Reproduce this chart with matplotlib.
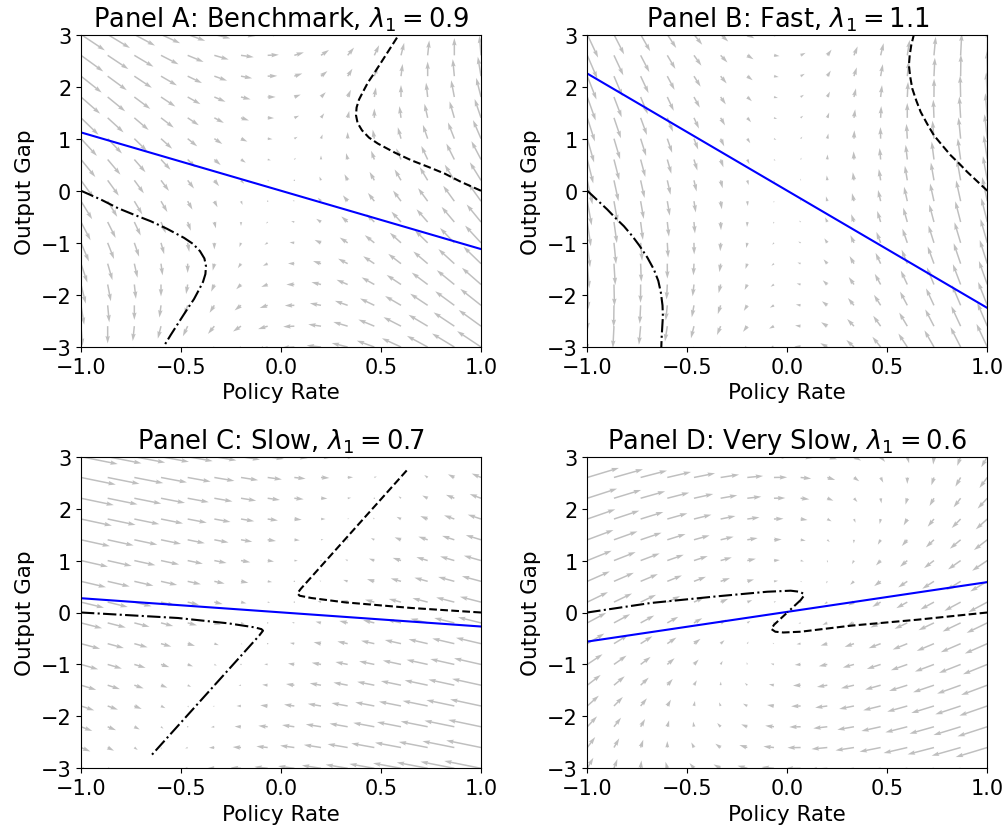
import numpy as np
import matplotlib
matplotlib.use('Agg')
import matplotlib.pyplot as plt

# Policy rate / output gap grid for the direction field
RATE_LIM = (-1.0, 1.0)
GAP_LIM = (-3.0, 3.0)
N_GRID = 16

PANEL_TITLES = [
    r'Panel A: Benchmark, $\lambda_1 = 0.9$',
    r'Panel B: Fast, $\lambda_1 = 1.1$',
    r'Panel C: Slow, $\lambda_1 = 0.7$',
    r'Panel D: Very Slow, $\lambda_1 = 0.6$',
]

# Linearised law of motion per panel: d(rate, gap) = M @ (rate, gap)
FIELD_A = [[-0.30, 0.100], [0.45, 0.017]]
FIELD_B = [[-0.095, 0.040], [0.48, 0.0067]]
FIELD_C = [[-0.36, 0.080], [0.09, -0.010]]
FIELD_D = [[-0.355, 0.082], [-0.18, -0.0033]]

# Saddle path (policy rate endpoints, output gap endpoints)
PATH_RATE = [-1.0, 1.0]
PATH_GAP_A = [1.12, -1.12]
PATH_GAP_B = [2.25, -2.25]
PATH_GAP_C = [0.275, -0.27]
PATH_GAP_D = [-0.56, 0.585]

# Simulated trajectories starting from rate = +1 (dashed) and rate = -1 (dash-dot)
UP_RATE_A = [1.0, 0.90, 0.818, 0.735, 0.652, 0.57, 0.485, 0.44, 0.405, 0.383,
             0.375, 0.378, 0.39, 0.41, 0.435, 0.47, 0.51, 0.55, 0.59]
UP_GAP_A = [0.0, 0.17, 0.33, 0.46, 0.584, 0.73, 0.904, 1.02, 1.16, 1.30,
            1.45, 1.60, 1.75, 1.90, 2.08, 2.28, 2.52, 2.76, 3.0]
DN_RATE_A = [-1.0, -0.90, -0.815, -0.735, -0.652, -0.57, -0.485, -0.44, -0.405, -0.383,
             -0.375, -0.378, -0.39, -0.41, -0.435, -0.47, -0.51, -0.55, -0.585]
DN_GAP_A = [0.0, -0.17, -0.335, -0.46, -0.584, -0.73, -0.904, -1.02, -1.16, -1.30,
            -1.45, -1.60, -1.75, -1.90, -2.08, -2.28, -2.52, -2.76, -2.98]

UP_RATE_B = [1.0, 0.95, 0.90, 0.86, 0.817, 0.775, 0.733, 0.70, 0.667, 0.645,
             0.625, 0.614, 0.608, 0.612, 0.62, 0.633]
UP_GAP_B = [0.0, 0.18, 0.36, 0.52, 0.68, 0.87, 1.065, 1.28, 1.512, 1.73,
            1.96, 2.20, 2.41, 2.60, 2.80, 3.0]
DN_RATE_B = [-1.0, -0.95, -0.90, -0.86, -0.817, -0.775, -0.74, -0.70, -0.667, -0.645,
             -0.632, -0.624, -0.622, -0.625, -0.628, -0.63]
DN_GAP_B = [0.0, -0.18, -0.36, -0.52, -0.68, -0.87, -1.05, -1.28, -1.512, -1.73,
            -1.96, -2.20, -2.41, -2.60, -2.80, -3.0]

UP_RATE_C = [1.0, 0.652, 0.318, 0.152, 0.093, 0.082, 0.10, 0.635]
UP_GAP_C = [0.0, 0.087, 0.196, 0.279, 0.323, 0.37, 0.46, 2.763]
DN_RATE_C = [-1.0, -0.515, -0.265, -0.132, -0.098, -0.09, -0.108, -0.655]
DN_GAP_C = [0.0, -0.106, -0.208, -0.286, -0.32, -0.35, -0.44, -2.78]

UP_RATE_D = [1.0, 0.65, 0.317, 0.067, -0.02, -0.06, -0.08, -0.066, 0.0]
UP_GAP_D = [0.0, -0.139, -0.254, -0.37, -0.385, -0.37, -0.318, -0.235, 0.0]
DN_RATE_D = [-1.0, -0.683, -0.35, -0.10, 0.017, 0.06, 0.08, 0.083, 0.067, 0.0]
DN_GAP_D = [0.0, 0.183, 0.312, 0.40, 0.42, 0.40, 0.365, 0.323, 0.24, 0.0]

PANELS = [
    (FIELD_A, PATH_GAP_A, (UP_RATE_A, UP_GAP_A), (DN_RATE_A, DN_GAP_A)),
    (FIELD_B, PATH_GAP_B, (UP_RATE_B, UP_GAP_B), (DN_RATE_B, DN_GAP_B)),
    (FIELD_C, PATH_GAP_C, (UP_RATE_C, UP_GAP_C), (DN_RATE_C, DN_GAP_C)),
    (FIELD_D, PATH_GAP_D, (UP_RATE_D, UP_GAP_D), (DN_RATE_D, DN_GAP_D)),
]

W, H = 1008, 829
fig = plt.figure(figsize=(W / 100, H / 100), dpi=100)
fig.patch.set_facecolor('white')

# axes boxes in pixels: left, top, width, height
boxes = [
    (81, 35.5, 400, 312.5),
    (587.3, 35.5, 400, 312.5),
    (81, 457.7, 400, 311.6),
    (587.3, 457.7, 400, 311.6),
]

rate = np.linspace(RATE_LIM[0], RATE_LIM[1], N_GRID)
gap = np.linspace(GAP_LIM[0], GAP_LIM[1], N_GRID)
R, G = np.meshgrid(rate, gap)

for (left, top, w, h), title, (field, path_gap, up, dn) in zip(boxes, PANEL_TITLES, PANELS):
    ax = fig.add_axes([left / W, 1 - (top + h) / H, w / W, h / H])
    m = np.array(field)
    U = m[0, 0] * R + m[0, 1] * G
    V = m[1, 0] * R + m[1, 1] * G
    ax.quiver(R, G, U, V, color='gray', alpha=0.5)
    ax.plot(PATH_RATE, path_gap, color='blue', lw=1.5)
    ax.plot(up[0], up[1], 'k--', lw=1.5)
    ax.plot(dn[0], dn[1], 'k-.', lw=1.5)
    ax.set_xlim(*RATE_LIM)
    ax.set_ylim(*GAP_LIM)
    ax.set_xticks([-1.0, -0.5, 0.0, 0.5, 1.0])
    ax.set_yticks([-3, -2, -1, 0, 1, 2, 3])
    ax.tick_params(labelsize=15)
    ax.set_xlabel('Policy Rate', fontsize=15.5)
    ax.set_ylabel('Output Gap', fontsize=15.5)
    ax.set_title(title, fontsize=18.5)

fig.savefig('out.png', dpi=100, facecolor='white')
